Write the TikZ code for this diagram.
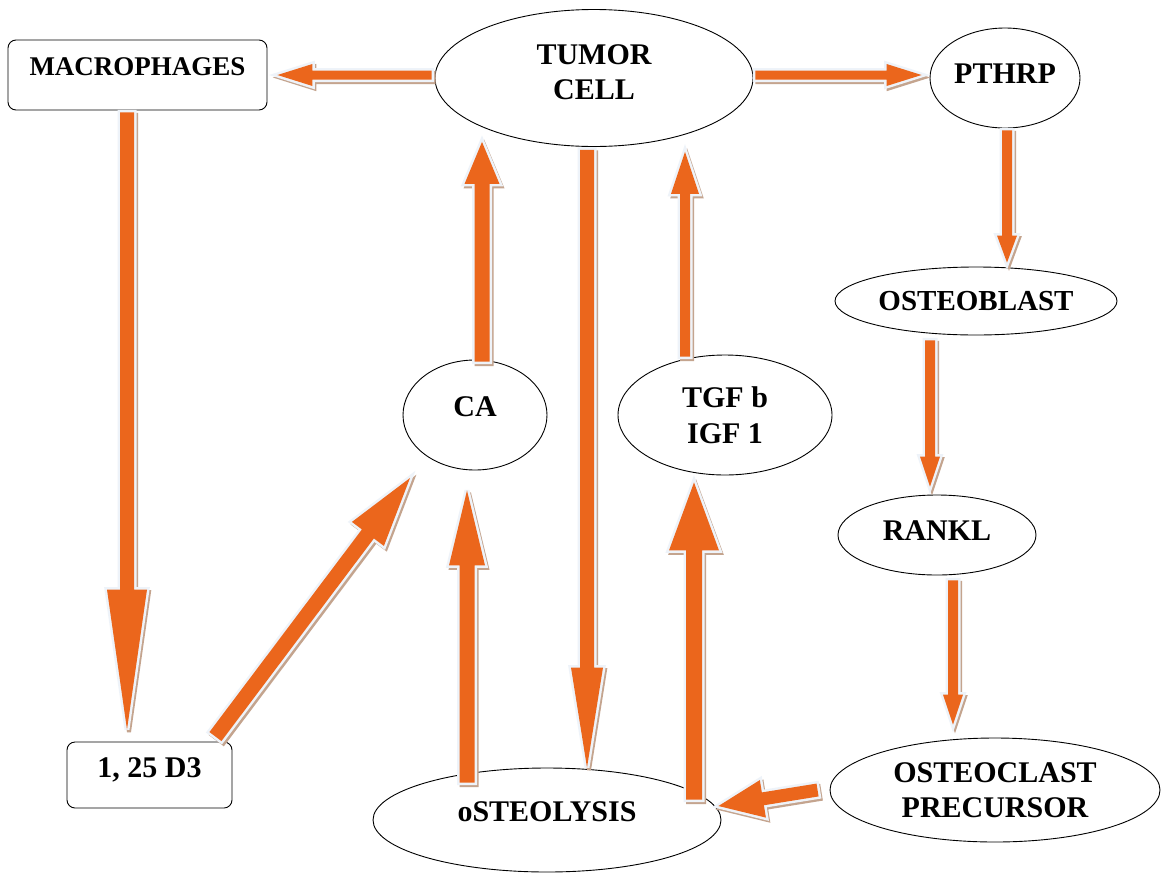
\documentclass[tikz,border=0pt]{standalone}
\usepackage{fontspec}
\setmainfont{Liberation Serif}
\usetikzlibrary{calc,shapes.geometric}
\definecolor{arrc}{RGB}{235,102,28}
\definecolor{edgec}{RGB}{238,243,249}
\definecolor{shadc}{RGB}{196,164,142}
\tikzset{
  ell/.style={ellipse, draw=black, line width=0.9pt, inner sep=0pt, align=center,
    font=\bfseries\fontsize{30}{35}\selectfont},
  rbox/.style={rectangle, rounded corners=8pt, draw=black, line width=0.9pt, inner sep=0pt, align=center,
    font=\bfseries\fontsize{30}{35}\selectfont},
  arrshadow/.style={fill=shadc, draw=shadc, line width=4pt, line join=miter, miter limit=4,
    transform canvas={xshift=2pt,yshift=-2.5pt}},
  arredge/.style={fill=edgec, draw=edgec, line width=5pt, line join=miter, miter limit=4},
  arrbody/.style={fill=arrc}
}
% #1 start, #2 tip, #3 shaft half width, #4 head half width, #5 head length
\newcommand{\blockarrow}[5]{%
  \coordinate (ba) at #1;
  \coordinate (bb) at #2;
  \coordinate (bh) at ($(bb)!#5pt!(ba)$);
  \coordinate (p1) at ($(ba)!#3pt!90:(bb)$);
  \coordinate (p2) at ($(bh)!#3pt!90:(bb)$);
  \coordinate (p3) at ($(bh)!#4pt!90:(bb)$);
  \coordinate (p5) at ($(bh)!#4pt!-90:(bb)$);
  \coordinate (p6) at ($(bh)!#3pt!-90:(bb)$);
  \coordinate (p7) at ($(ba)!#3pt!-90:(bb)$);
  \path[arrshadow] (p1) -- (p2) -- (p3) -- (bb) -- (p5) -- (p6) -- (p7) -- cycle;
  \path[arredge] (p1) -- (p2) -- (p3) -- (bb) -- (p5) -- (p6) -- (p7) -- cycle;
  \path[arrbody] (p1) -- (p2) -- (p3) -- (bb) -- (p5) -- (p6) -- (p7) -- cycle;
}
\begin{document}
\begin{tikzpicture}[x=1pt,y=-1pt]
\useasboundingbox[fill=white] (0,0) rectangle (1162,873);

% nodes
\node[rbox, minimum width=259pt, minimum height=70pt, text height=20pt, text depth=20pt,
  font=\bfseries\fontsize{27}{32}\selectfont] (macro) at (137.5,75) {MACROPHAGES};
\node[ell, minimum width=318pt, minimum height=137pt, text depth=11pt] (tumor) at (594,78) {TUMOR\\CELL};
\node[ell, minimum width=150pt, minimum height=100pt, text depth=8pt] (pthrp) at (1005,78) {PTHRP};
\node[ell, minimum width=282pt, minimum height=68pt, font=\bfseries\fontsize{29}{34}\selectfont] (osteoblast) at (976,301) {OSTEOBLAST};
\node[ell, minimum width=198pt, minimum height=80pt, text depth=8pt] (rankl) at (937,535) {RANKL};
\node[ell, minimum width=330pt, minimum height=104pt] (oc) at (995,790) {OSTEOCLAST\\PRECURSOR};
\node[ell, minimum width=348pt, minimum height=104pt, text depth=16pt] (osteolysis) at (547,820) {oSTEOLYSIS};
\node[ell, minimum width=144pt, minimum height=110pt, text depth=16pt] (ca) at (475,415) {CA};
\node[ell, minimum width=214pt, minimum height=120pt, font=\bfseries\fontsize{30}{36}\selectfont] (tgf) at (725,415) {TGF b\\IGF 1};
\node[rbox, minimum width=165pt, minimum height=66pt, text depth=14pt] (d3) at (149.5,775) {1, 25 D3};

% arrows
\blockarrow{($(tumor.west)+(-3,-3)$)}{($(macro.east)+(10,0)$)}{4.5}{11}{35}
\blockarrow{($(tumor.east)+(2,-3)$)}{($(pthrp.west)+(-8,-3)$)}{4.5}{11}{35}
\blockarrow{($(pthrp.south)+(2,2)$)}{($(osteoblast.north)+(31,-4)$)}{5}{10}{27}
\blockarrow{($(osteoblast.south)+(-46,5)$)}{($(rankl.north)+(-7,-8)$)}{5}{10}{30}
\blockarrow{($(rankl.south)+(16,5)$)}{($(oc.north)+(-42,-13)$)}{5}{10}{30}
\blockarrow{($(oc.west)+(-12,0)$)}{($(osteolysis.east)+(-3,-14)$)}{6.5}{19}{45}
\blockarrow{($(osteolysis.north)+(147,32)$)}{($(tgf.south)+(-31,7)$)}{8}{25}{68}
\blockarrow{($(tgf.north)+(-40,2)$)}{($(tumor.south)+(91,5)$)}{5}{14}{42}
\blockarrow{($(ca.north)+(7,2)$)}{($(tumor.south)+(-112,-5)$)}{7.5}{17.5}{42}
\blockarrow{($(tumor.south)+(-7,3)$)}{($(osteolysis.north)+(40,0)$)}{7}{16}{100}
\blockarrow{($(osteolysis.north)+(-80,15)$)}{($(ca.south)+(-8,20)$)}{7.5}{18}{75}
\blockarrow{($(macro.south)+(-10.5,2)$)}{($(d3.north)+(-22.5,-12)$)}{7}{20}{140}
\blockarrow{($(d3.north east)+(-17,-5)$)}{($(ca.center)+(-65,63)$)}{7.5}{20}{70}
\end{tikzpicture}
\end{document}
